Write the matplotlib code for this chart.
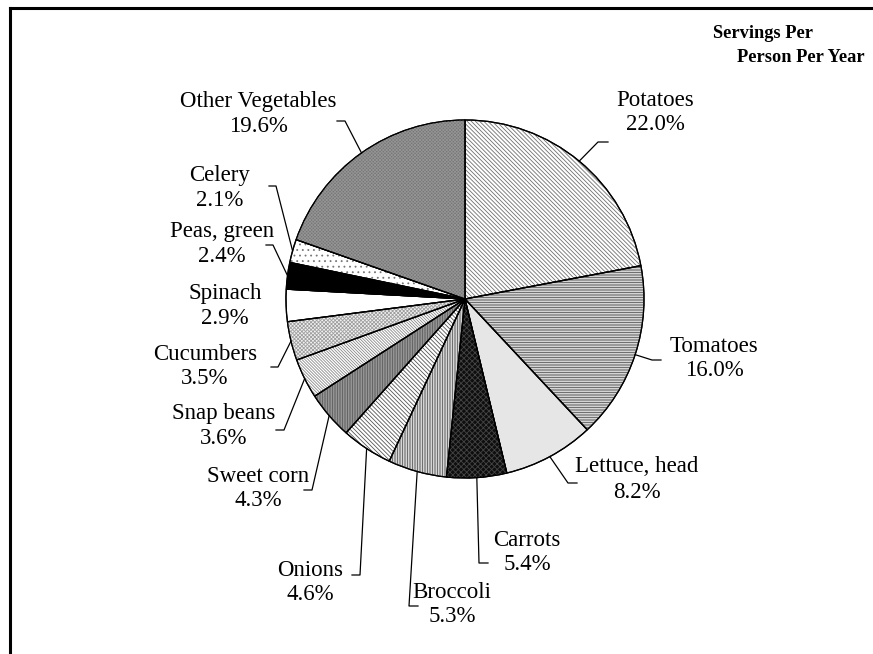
import matplotlib
matplotlib.use("Agg")
import matplotlib.pyplot as plt
import numpy as np
from matplotlib.patches import Wedge
from matplotlib.lines import Line2D

# ---------------- data ----------------
categories = ["Potatoes", "Tomatoes", "Lettuce, head", "Carrots", "Broccoli",
              "Onions", "Sweet corn", "Snap beans", "Cucumbers", "Spinach",
              "Peas, green", "Celery", "Other Vegetables"]
shares = [22.0, 16.0, 8.2, 5.4, 5.3, 4.6, 4.3, 3.6, 3.5, 2.9, 2.4, 2.1, 19.6]
title_lines = ["Servings Per", "Person Per Year"]

# ---------------- styles ----------------
BS = "\\"
# (facecolor, hatch, hatch colour)
styles = [
    ("white", BS * 8, "#707070"),           # Potatoes
    ("white", "-" * 10, "#555555"),         # Tomatoes
    ("#e6e6e6", None, None),                # Lettuce
    ("#0e0e0e", "x" * 6, "#444444"),        # Carrots
    ("white", "|" * 10, "#555555"),         # Broccoli
    ("white", BS * 8, "#555555"),           # Onions
    ("#a8a8a8", "|" * 10, "#5a5a5a"),       # Sweet corn
    ("white", BS * 11, "#8a8a8a"),          # Snap beans
    ("#f2f2f2", "x" * 9, "#a0a0a0"),        # Cucumbers
    ("white", None, None),                  # Spinach
    ("black", None, None),                  # Peas
    ("white", "...", "#777777"),            # Celery
    ("#767676", "x" * 10, "#949494"),       # Other
]

# ---------------- layout (pixels) ----------------
W, H = 873, 654
CX, CY, R = 465, 299, 179
label_xy = [(655, 100), (714, 346), (637, 467), (527, 540), (452, 592),
            (310, 570), (258, 476), (224, 414), (205, 354), (225, 294),
            (222, 232), (220, 175), (258, 102)]
elbows = [(598, 142), (652, 360), (568, 483), (479, 563), (409, 606),
          (360, 575), (312, 490), (284, 430), (278, 367), None,
          (273, 245), (276, 186), (345, 121)]
ends = [(608, 142), (661, 360), (577, 483), (488, 563), (418, 606),
        (352, 575), (304, 490), (276, 430), (271, 367), None,
        (266, 245), (269, 186), (337, 121)]


def px(p):
    return ((p[0] - CX) / R, (CY - p[1]) / R)


plt.rcParams["hatch.linewidth"] = 0.6
plt.rcParams["font.family"] = ["Liberation Serif", "DejaVu Serif"]

fig = plt.figure(figsize=(W / 100, H / 100), dpi=100)
ax = fig.add_axes([0, 0, 1, 1])
ax.axis("off")

wedges, _ = ax.pie(shares, startangle=90, counterclock=False, radius=1,
                   center=(0, 0), frame=False,
                   colors=[s[0] for s in styles],
                   wedgeprops=dict(edgecolor="black", linewidth=0.9))
ax.set_xlim(-CX / R, (W - CX) / R)
ax.set_ylim((CY - H) / R, CY / R)
ax.set_aspect("auto")

for w, (fc, hatch, hc) in zip(wedges, styles):
    w.set_zorder(1)
    if hatch:
        hw = Wedge(w.center, w.r, w.theta1, w.theta2, facecolor="none",
                   edgecolor=hc, linewidth=0, hatch=hatch, zorder=2)
        ax.add_patch(hw)
    ow = Wedge(w.center, w.r, w.theta1, w.theta2, facecolor="none",
               edgecolor="black", linewidth=0.9, zorder=3)
    ax.add_patch(ow)

# labels and leader lines
for i, (w, name, val) in enumerate(zip(wedges, categories, shares)):
    if elbows[i] is not None:
        mid = np.deg2rad((w.theta1 + w.theta2) / 2)
        ex, ey = np.cos(mid), np.sin(mid)
        bx, by = px(elbows[i])
        fx, fy = px(ends[i])
        ax.plot([ex, bx, fx], [ey, by, fy], color="black", lw=0.9, zorder=4)
    lx, ly = px(label_xy[i])
    _, ly2 = px((label_xy[i][0], label_xy[i][1] + 25))
    ax.text(lx, ly, name, ha="center", va="center", fontsize=16.5)
    ax.text(lx, ly2, f"{val:.1f}%", ha="center", va="center", fontsize=16.5)

# title
fig.text(713 / W, 1 - 33 / H, title_lines[0], ha="left", va="center",
         fontsize=13.2, fontweight="bold")
fig.text(737 / W, 1 - 57 / H, title_lines[1], ha="left", va="center",
         fontsize=13.2, fontweight="bold")

# border (top and left)
fig.add_artist(Line2D([10 / W, 1], [1 - 8 / H, 1 - 8 / H], color="black",
                      lw=2.2, transform=fig.transFigure))
fig.add_artist(Line2D([10 / W, 10 / W], [0, 1 - 8 / H], color="black",
                      lw=2.2, transform=fig.transFigure))

fig.savefig("out.png", dpi=100)
